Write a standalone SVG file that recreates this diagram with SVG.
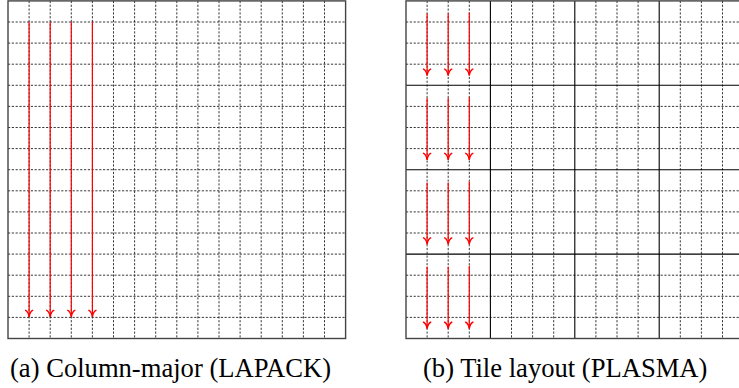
<svg xmlns="http://www.w3.org/2000/svg" width="739" height="388" viewBox="0 0 739 388">
<style>
.bg{fill:#ffffff}
.dot{fill:none;stroke:#222;stroke-width:0.9;stroke-dasharray:2.2 1.6}
.tile{fill:none;stroke:#000;stroke-width:1.1}
.frame{fill:none;stroke:#444;stroke-width:1.4}
.arr{fill:none;stroke:#ff0000;stroke-width:1.2}
.cap{font-size:26.6px;fill:#000}
</style>
<defs>
<marker id="to" markerUnits="userSpaceOnUse" markerWidth="12" markerHeight="12" viewBox="-7 -5 8 10" refX="0" refY="0" orient="auto">
<path d="M-5.5,-3.4 C-4.8,-1.3 -1.6,-0.3 0,0 C-1.6,0.3 -4.8,1.3 -5.5,3.4" fill="none" stroke="#ff0000" stroke-width="1.1"/>
</marker>
</defs>
<rect class="bg" x="0" y="0" width="739" height="388"/>
<g id="panel-a">
<path class="dot" d="M29.1 0.9V338.5M50.2 0.9V338.5M71.3 0.9V338.5M92.4 0.9V338.5M113.5 0.9V338.5M134.6 0.9V338.5M155.7 0.9V338.5M176.8 0.9V338.5M197.9 0.9V338.5M219 0.9V338.5M240.1 0.9V338.5M261.2 0.9V338.5M282.3 0.9V338.5M303.4 0.9V338.5M324.5 0.9V338.5M8 22H345.6M8 43.1H345.6M8 64.2H345.6M8 85.3H345.6M8 106.4H345.6M8 127.5H345.6M8 148.6H345.6M8 169.7H345.6M8 190.8H345.6M8 211.9H345.6M8 233H345.6M8 254.1H345.6M8 275.2H345.6M8 296.3H345.6M8 317.4H345.6"/>
<rect class="frame" x="8" y="0.9" width="337.6" height="337.6"/>
</g>
<g id="panel-b">
<path class="dot" d="M427.1 0.9V338.5M448.2 0.9V338.5M469.3 0.9V338.5M511.5 0.9V338.5M532.6 0.9V338.5M553.7 0.9V338.5M595.9 0.9V338.5M617 0.9V338.5M638.1 0.9V338.5M680.3 0.9V338.5M701.4 0.9V338.5M722.5 0.9V338.5M406 22H743.6M406 43.1H743.6M406 64.2H743.6M406 106.4H743.6M406 127.5H743.6M406 148.6H743.6M406 190.8H743.6M406 211.9H743.6M406 233H743.6M406 275.2H743.6M406 296.3H743.6M406 317.4H743.6"/>
<path class="tile" d="M490.4 0.9V338.5M574.8 0.9V338.5M659.2 0.9V338.5M406 85.3H743.6M406 169.7H743.6M406 254.1H743.6"/>
<rect class="frame" x="406" y="0.9" width="337.6" height="337.6"/>
</g>
<g id="connectors">
<path class="arr" marker-end="url(#to)" d="M29.1 22V316.8"/>
<path class="arr" marker-end="url(#to)" d="M50.2 22V316.8"/>
<path class="arr" marker-end="url(#to)" d="M71.3 22V316.8"/>
<path class="arr" marker-end="url(#to)" d="M92.4 22V316.8"/>
<path class="arr" marker-end="url(#to)" d="M427.1 13.6V75.4"/>
<path class="arr" marker-end="url(#to)" d="M448.2 13.6V75.4"/>
<path class="arr" marker-end="url(#to)" d="M469.3 12.6V75.4"/>
<path class="arr" marker-end="url(#to)" d="M427.1 98V159.8"/>
<path class="arr" marker-end="url(#to)" d="M448.2 98V159.8"/>
<path class="arr" marker-end="url(#to)" d="M469.3 97V159.8"/>
<path class="arr" marker-end="url(#to)" d="M427.1 182.4V244.2"/>
<path class="arr" marker-end="url(#to)" d="M448.2 182.4V244.2"/>
<path class="arr" marker-end="url(#to)" d="M469.3 181.4V244.2"/>
<path class="arr" marker-end="url(#to)" d="M427.1 266.8V328.6"/>
<path class="arr" marker-end="url(#to)" d="M448.2 266.8V328.6"/>
<path class="arr" marker-end="url(#to)" d="M469.3 265.8V328.6"/>
</g>
<g id="captions">
<text class="cap" font-family="Times New Roman, 'Liberation Serif', serif" x="10" y="377">(a) Column-major (LAPACK)</text>
<text class="cap" font-family="Times New Roman, 'Liberation Serif', serif" x="423" y="377">(b) Tile layout (PLASMA)</text>
</g>
</svg>
